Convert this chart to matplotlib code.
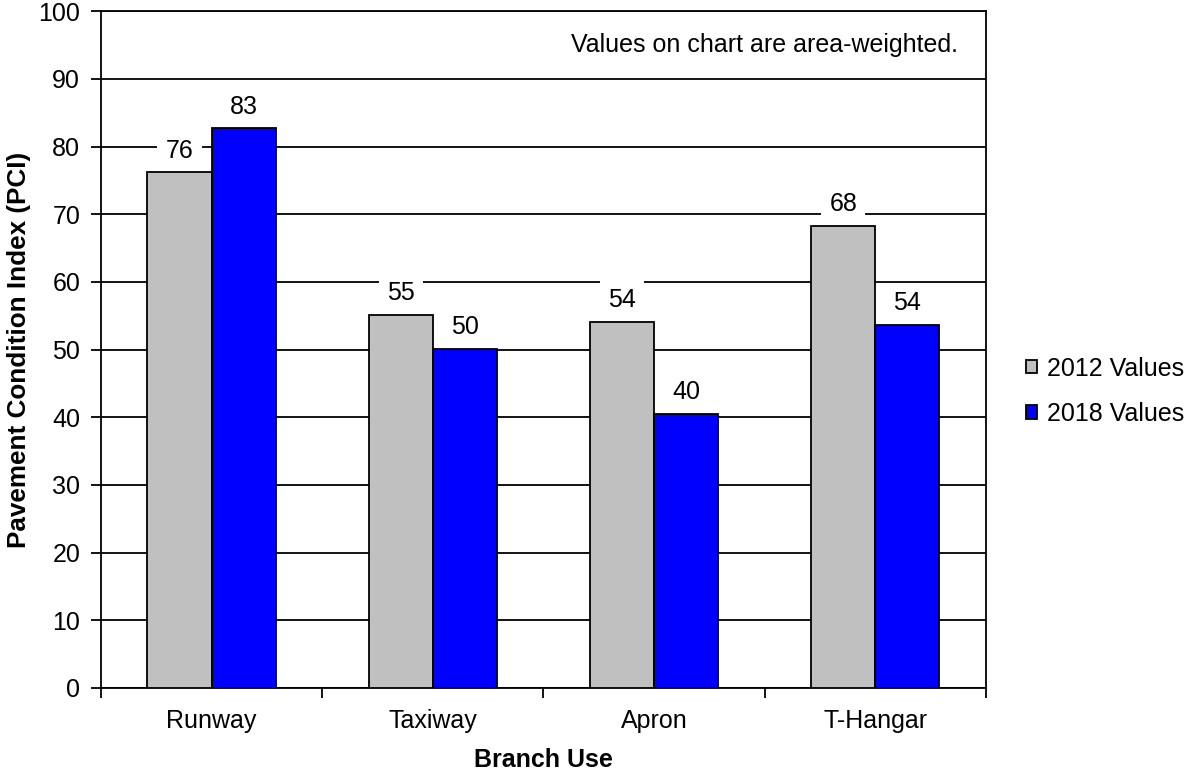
import matplotlib.pyplot as plt
import numpy as np

plt.rcParams['font.family'] = ['Liberation Sans', 'DejaVu Sans']

categories = ['Runway', 'Taxiway', 'Apron', 'T-Hangar']
values_2012 = [76.2, 55.1, 54.1, 68.3]
values_2018 = [82.7, 50.1, 40.5, 53.6]
labels_2012 = ['76', '55', '54', '68']
labels_2018 = ['83', '50', '40', '54']

fig = plt.figure(figsize=(11.91, 7.70), dpi=100)
ax = fig.add_axes([0.0848, 0.1065, 0.743, 0.879])

x = np.arange(len(categories))
width = 0.29
bars_a = ax.bar(x - width / 2, values_2012, width, color='#c0c0c0', edgecolor='black',
                linewidth=1.3, label='2012 Values', zorder=3)
bars_b = ax.bar(x + width / 2, values_2018, width, color='#0000ff', edgecolor='black',
                linewidth=1.3, label='2018 Values', zorder=3)

for bars, labels in ((bars_a, labels_2012), (bars_b, labels_2018)):
    for bar, lab in zip(bars, labels):
        ax.annotate(lab, (bar.get_x() + bar.get_width() / 2, bar.get_height()),
                    xytext=(0, 7), textcoords='offset points', ha='center', va='bottom',
                    fontsize=18, zorder=2.5,
                    bbox=dict(facecolor='white', edgecolor='none', pad=6))

ax.set_xlim(-0.5, 3.5)
ax.set_ylim(0, 100)
ax.set_yticks(range(0, 101, 10))
ax.yaxis.grid(True, color='black', linewidth=1.3, zorder=0)
ax.set_axisbelow(True)

ax.set_xticks(np.arange(-0.5, 4, 1))
ax.set_xticklabels([])
ax.set_xticks(x, minor=True)
ax.set_xticklabels(categories, minor=True, fontsize=18)
ax.tick_params(axis='x', which='minor', length=0, pad=15)
ax.tick_params(axis='x', which='major', length=7, width=1.3, direction='out')
ax.tick_params(axis='y', length=7, width=1.3, labelsize=18, pad=8)

for sp in ax.spines.values():
    sp.set_linewidth(1.3)

ax.set_xlabel('Branch Use', fontsize=18, fontweight='bold', labelpad=11)
ax.set_ylabel('Pavement Condition Index (PCI)', fontsize=18.8, fontweight='bold', labelpad=5)

ax.text(0.968, 0.95, 'Values on chart are area-weighted.', transform=ax.transAxes,
        ha='right', va='center', fontsize=18,
        bbox=dict(facecolor='white', edgecolor='none', pad=2))

fig.legend(loc='center left', bbox_to_anchor=(0.8426, 0.492), frameon=False, fontsize=18,
           handlelength=0.45, handleheight=0.45, handletextpad=0.4, labelspacing=0.85)

fig.savefig('out.png', dpi=100)
